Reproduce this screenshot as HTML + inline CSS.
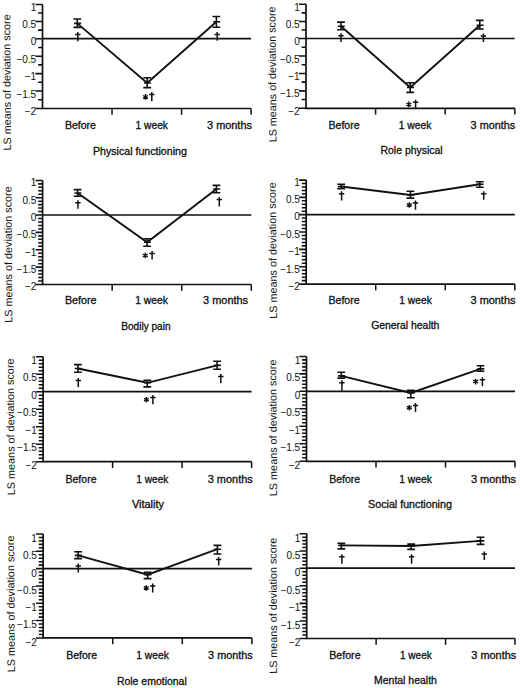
<!DOCTYPE html>
<html><head><meta charset="utf-8"><style>
html,body{margin:0;padding:0;background:#fff;}
svg{display:block;}
text{font-family:"Liberation Sans", sans-serif;fill:#111;}
</style></head><body>
<svg width="520" height="688" viewBox="0 0 520 688">
<rect width="520" height="688" fill="#fff"/>
<g><path d="M42.5 4.4V108.5H251.1" fill="none" stroke="#111" stroke-width="1.7"/><path d="M112.03 108.5v6.3" stroke="#111" stroke-width="1.5"/><path d="M181.57 108.5v6.3" stroke="#111" stroke-width="1.5"/><path d="M251.1 108.5v6.3" stroke="#111" stroke-width="1.5"/><path d="M42.5 38.7H251.1" stroke="#111" stroke-width="1.7"/><path d="M35.4 4.4H42.5M38.1 12.98H42.5M35.4 21.55H42.5M38.1 30.12H42.5M35.4 38.7H42.5M38.1 47.43H42.5M35.4 56.15H42.5M38.1 64.88H42.5M35.4 73.6H42.5M38.1 82.33H42.5M35.4 91.05H42.5M38.1 99.78H42.5M35.4 108.5H42.5" stroke="#111" stroke-width="1.55"/><text x="36.2" y="11" text-anchor="end" font-size="10">1</text><text x="36.2" y="28.15" text-anchor="end" font-size="10">0.5</text><text x="36.2" y="45.3" text-anchor="end" font-size="10">0</text><text x="36.2" y="62.75" text-anchor="end" font-size="10">−0.5</text><text x="36.2" y="80.2" text-anchor="end" font-size="10">−1</text><text x="36.2" y="97.65" text-anchor="end" font-size="10">−1.5</text><text x="36.2" y="115.1" text-anchor="end" font-size="10">−2</text><text transform="translate(11 150.5) rotate(-90.38)" font-size="10.7" textLength="136.15" lengthAdjust="spacingAndGlyphs">LS means of deviation score</text><text x="64.9" y="128.6" font-size="10.1" stroke="#111" stroke-width="0.3" textLength="31.1" lengthAdjust="spacingAndGlyphs">Before</text><text x="135.5" y="128.6" font-size="10.1" stroke="#111" stroke-width="0.3" textLength="32.5" lengthAdjust="spacingAndGlyphs">1 week</text><text x="207.1" y="128.6" font-size="10.1" stroke="#111" stroke-width="0.3" textLength="44.8" lengthAdjust="spacingAndGlyphs">3 months</text><text x="92.9" y="154.5" font-size="10.1" stroke="#111" stroke-width="0.3" textLength="94" lengthAdjust="spacingAndGlyphs">Physical functioning</text><polyline points="77.3,23.4 147.2,83 216.4,21.8" fill="none" stroke="#111" stroke-width="1.9" stroke-linejoin="miter"/><path d="M77.3 19V27.4M73.4 19h7.8M73.4 27.4h7.8M74.1 23.4h7" fill="none" stroke="#111" stroke-width="1.6"/><path d="M147.2 77.7V87.6M143.3 77.7h7.8M143.3 87.6h7.8M144 83h7" fill="none" stroke="#111" stroke-width="1.6"/><path d="M216.4 16.5V27.3M212.5 16.5h7.8M212.5 27.3h7.8M213.2 21.8h7" fill="none" stroke="#111" stroke-width="1.6"/><path d="M77.8 31.9V41.2M75.1 34.4h5.4" stroke="#111" stroke-width="1.5"/><path d="M145.5 94.1L145.5 99.7M143.08 95.5L147.92 98.3M143.08 98.3L147.92 95.5" stroke="#111" stroke-width="1.4"/><path d="M151.8 91.9V101.2M149.1 94.4h5.4" stroke="#111" stroke-width="1.5"/><path d="M217.2 31.9V40.8M214.5 34.4h5.4" stroke="#111" stroke-width="1.5"/></g>
<g><path d="M306 4.3V108.3H514.8" fill="none" stroke="#111" stroke-width="1.7"/><path d="M375.6 108.3v6.3" stroke="#111" stroke-width="1.5"/><path d="M445.2 108.3v6.3" stroke="#111" stroke-width="1.5"/><path d="M514.8 108.3v6.3" stroke="#111" stroke-width="1.5"/><path d="M306 38.5H514.8" stroke="#111" stroke-width="1.7"/><path d="M298.9 4.3H306M301.6 12.85H306M298.9 21.4H306M301.6 29.95H306M298.9 38.5H306M301.6 47.23H306M298.9 55.95H306M301.6 64.67H306M298.9 73.4H306M301.6 82.12H306M298.9 90.85H306M301.6 99.57H306M298.9 108.3H306" stroke="#111" stroke-width="1.55"/><text x="299.7" y="10.9" text-anchor="end" font-size="10">1</text><text x="299.7" y="28" text-anchor="end" font-size="10">0.5</text><text x="299.7" y="45.1" text-anchor="end" font-size="10">0</text><text x="299.7" y="62.55" text-anchor="end" font-size="10">−0.5</text><text x="299.7" y="80" text-anchor="end" font-size="10">−1</text><text x="299.7" y="97.45" text-anchor="end" font-size="10">−1.5</text><text x="299.7" y="114.9" text-anchor="end" font-size="10">−2</text><text transform="translate(276.6 142.35) rotate(-90.55)" font-size="10.7" textLength="135.9" lengthAdjust="spacingAndGlyphs">LS means of deviation score</text><text x="328.5" y="128.6" font-size="10.1" stroke="#111" stroke-width="0.3" textLength="31.1" lengthAdjust="spacingAndGlyphs">Before</text><text x="398.7" y="128.6" font-size="10.1" stroke="#111" stroke-width="0.3" textLength="32.8" lengthAdjust="spacingAndGlyphs">1 week</text><text x="470.6" y="128.6" font-size="10.1" stroke="#111" stroke-width="0.3" textLength="44.6" lengthAdjust="spacingAndGlyphs">3 months</text><text x="380.5" y="154.4" font-size="10.1" stroke="#111" stroke-width="0.3" textLength="62.1" lengthAdjust="spacingAndGlyphs">Role physical</text><polyline points="341,26.3 410.2,87.4 479.8,25.2" fill="none" stroke="#111" stroke-width="1.9" stroke-linejoin="miter"/><path d="M341 22.1V29.8M337.1 22.1h7.8M337.1 29.8h7.8M337.8 26.3h7" fill="none" stroke="#111" stroke-width="1.6"/><path d="M410.2 82.8V92.4M406.3 82.8h7.8M406.3 92.4h7.8M407 87.4h7" fill="none" stroke="#111" stroke-width="1.6"/><path d="M479.8 20.4V29M475.9 20.4h7.8M475.9 29h7.8M476.6 25.2h7" fill="none" stroke="#111" stroke-width="1.6"/><path d="M341 33.3V41.9M338.3 35.8h5.4" stroke="#111" stroke-width="1.5"/><path d="M408.8 101.6L408.8 107.2M406.38 103L411.22 105.8M406.38 105.8L411.22 103" stroke="#111" stroke-width="1.4"/><path d="M415.6 99.8V108.5M412.9 102.3h5.4" stroke="#111" stroke-width="1.5"/><path d="M483.4 33.4V42M480.7 35.9h5.4" stroke="#111" stroke-width="1.5"/></g>
<g><path d="M42.6 180.4V284.5H251.3" fill="none" stroke="#111" stroke-width="1.7"/><path d="M112.17 284.5v6.3" stroke="#111" stroke-width="1.5"/><path d="M181.73 284.5v6.3" stroke="#111" stroke-width="1.5"/><path d="M251.3 284.5v6.3" stroke="#111" stroke-width="1.5"/><path d="M42.6 215H251.3" stroke="#111" stroke-width="1.7"/><path d="M35.5 180.4H42.6M38.2 183.86H42.6M38.2 187.32H42.6M38.2 190.78H42.6M38.2 194.24H42.6M35.5 197.7H42.6M38.2 201.16H42.6M38.2 204.62H42.6M38.2 208.08H42.6M38.2 211.54H42.6M35.5 215H42.6M38.2 218.47H42.6M38.2 221.95H42.6M38.2 225.43H42.6M38.2 228.9H42.6M35.5 232.38H42.6M38.2 235.85H42.6M38.2 239.33H42.6M38.2 242.8H42.6M38.2 246.28H42.6M35.5 249.75H42.6M38.2 253.22H42.6M38.2 256.7H42.6M38.2 260.18H42.6M38.2 263.65H42.6M35.5 267.12H42.6M38.2 270.6H42.6M38.2 274.07H42.6M38.2 277.55H42.6M38.2 281.02H42.6M35.5 284.5H42.6" stroke="#111" stroke-width="1.55"/><text x="36.3" y="186.2" text-anchor="end" font-size="10">1</text><text x="36.3" y="203.5" text-anchor="end" font-size="10">0.5</text><text x="36.3" y="220.8" text-anchor="end" font-size="10">0</text><text x="36.3" y="238.18" text-anchor="end" font-size="10">−0.5</text><text x="36.3" y="255.55" text-anchor="end" font-size="10">−1</text><text x="36.3" y="272.93" text-anchor="end" font-size="10">−1.5</text><text x="36.3" y="290.3" text-anchor="end" font-size="10">−2</text><text transform="translate(12.3 322.65) rotate(-90.34)" font-size="10.7" textLength="136.3" lengthAdjust="spacingAndGlyphs">LS means of deviation score</text><text x="64.9" y="304.1" font-size="10.1" stroke="#111" stroke-width="0.3" textLength="31.6" lengthAdjust="spacingAndGlyphs">Before</text><text x="135.2" y="304.1" font-size="10.1" stroke="#111" stroke-width="0.3" textLength="32.8" lengthAdjust="spacingAndGlyphs">1 week</text><text x="203.1" y="304.1" font-size="10.1" stroke="#111" stroke-width="0.3" textLength="45" lengthAdjust="spacingAndGlyphs">3 months</text><text x="121.2" y="330.4" font-size="10.1" stroke="#111" stroke-width="0.3" textLength="49.4" lengthAdjust="spacingAndGlyphs">Bodily pain</text><polyline points="77.6,193 147.1,242.2 216.4,189" fill="none" stroke="#111" stroke-width="1.9" stroke-linejoin="miter"/><path d="M77.6 189.6V196.3M73.7 189.6h7.8M73.7 196.3h7.8M74.4 193h7" fill="none" stroke="#111" stroke-width="1.6"/><path d="M147.1 238.8V246.2M143.2 238.8h7.8M143.2 246.2h7.8M143.9 242.2h7" fill="none" stroke="#111" stroke-width="1.6"/><path d="M216.4 185.4V192.8M212.5 185.4h7.8M212.5 192.8h7.8M213.2 189h7" fill="none" stroke="#111" stroke-width="1.6"/><path d="M77.9 200.2V208.8M75.2 202.7h5.4" stroke="#111" stroke-width="1.5"/><path d="M145.3 252.7L145.3 258.3M142.88 254.1L147.72 256.9M142.88 256.9L147.72 254.1" stroke="#111" stroke-width="1.4"/><path d="M152.1 251V259.6M149.4 253.5h5.4" stroke="#111" stroke-width="1.5"/><path d="M219.3 197.1V206.5M216.6 199.6h5.4" stroke="#111" stroke-width="1.5"/></g>
<g><path d="M306.2 180.1V284.1H514.8" fill="none" stroke="#111" stroke-width="1.7"/><path d="M375.73 284.1v6.3" stroke="#111" stroke-width="1.5"/><path d="M445.27 284.1v6.3" stroke="#111" stroke-width="1.5"/><path d="M514.8 284.1v6.3" stroke="#111" stroke-width="1.5"/><path d="M306.2 214.6H514.8" stroke="#111" stroke-width="1.7"/><path d="M299.1 180.1H306.2M301.8 183.55H306.2M301.8 187H306.2M301.8 190.45H306.2M301.8 193.9H306.2M299.1 197.35H306.2M301.8 200.8H306.2M301.8 204.25H306.2M301.8 207.7H306.2M301.8 211.15H306.2M299.1 214.6H306.2M301.8 218.07H306.2M301.8 221.55H306.2M301.8 225.03H306.2M301.8 228.5H306.2M299.1 231.97H306.2M301.8 235.45H306.2M301.8 238.93H306.2M301.8 242.4H306.2M301.8 245.88H306.2M299.1 249.35H306.2M301.8 252.83H306.2M301.8 256.3H306.2M301.8 259.78H306.2M301.8 263.25H306.2M299.1 266.73H306.2M301.8 270.2H306.2M301.8 273.68H306.2M301.8 277.15H306.2M301.8 280.62H306.2M299.1 284.1H306.2" stroke="#111" stroke-width="1.55"/><text x="299.9" y="185.9" text-anchor="end" font-size="10">1</text><text x="299.9" y="203.15" text-anchor="end" font-size="10">0.5</text><text x="299.9" y="220.4" text-anchor="end" font-size="10">0</text><text x="299.9" y="237.78" text-anchor="end" font-size="10">−0.5</text><text x="299.9" y="255.15" text-anchor="end" font-size="10">−1</text><text x="299.9" y="272.53" text-anchor="end" font-size="10">−1.5</text><text x="299.9" y="289.9" text-anchor="end" font-size="10">−2</text><text transform="translate(277.1 318.75) rotate(-90.64)" font-size="10.7" textLength="136.5" lengthAdjust="spacingAndGlyphs">LS means of deviation score</text><text x="328.5" y="304.1" font-size="10.1" stroke="#111" stroke-width="0.3" textLength="31.1" lengthAdjust="spacingAndGlyphs">Before</text><text x="399.3" y="304.1" font-size="10.1" stroke="#111" stroke-width="0.3" textLength="32.5" lengthAdjust="spacingAndGlyphs">1 week</text><text x="470.6" y="304.1" font-size="10.1" stroke="#111" stroke-width="0.3" textLength="44.8" lengthAdjust="spacingAndGlyphs">3 months</text><text x="371.2" y="329.4" font-size="10.1" stroke="#111" stroke-width="0.3" textLength="68.2" lengthAdjust="spacingAndGlyphs">General health</text><polyline points="341.2,186.5 410.4,195 479.8,184.3" fill="none" stroke="#111" stroke-width="1.9" stroke-linejoin="miter"/><path d="M341.2 184.3V188.6M337.3 184.3h7.8M337.3 188.6h7.8M338 186.5h7" fill="none" stroke="#111" stroke-width="1.6"/><path d="M410.4 191.3V198.1M406.5 191.3h7.8M406.5 198.1h7.8M407.2 195h7" fill="none" stroke="#111" stroke-width="1.6"/><path d="M479.8 181.7V187.3M475.9 181.7h7.8M475.9 187.3h7.8M476.6 184.3h7" fill="none" stroke="#111" stroke-width="1.6"/><path d="M341.6 191.2V200.5M338.9 193.7h5.4" stroke="#111" stroke-width="1.5"/><path d="M409.3 202.2L409.3 207.8M406.88 203.6L411.72 206.4M406.88 206.4L411.72 203.6" stroke="#111" stroke-width="1.4"/><path d="M415.5 200.4V209.8M412.8 202.9h5.4" stroke="#111" stroke-width="1.5"/><path d="M483.7 191.2V199.8M481 193.7h5.4" stroke="#111" stroke-width="1.5"/></g>
<g><path d="M43.1 356.8V461.7H251.6" fill="none" stroke="#111" stroke-width="1.7"/><path d="M112.6 461.7v6.3" stroke="#111" stroke-width="1.5"/><path d="M182.1 461.7v6.3" stroke="#111" stroke-width="1.5"/><path d="M251.6 461.7v6.3" stroke="#111" stroke-width="1.5"/><path d="M43.1 391.7H251.6" stroke="#111" stroke-width="1.7"/><path d="M36 356.8H43.1M38.7 360.29H43.1M38.7 363.78H43.1M38.7 367.27H43.1M38.7 370.76H43.1M36 374.25H43.1M38.7 377.74H43.1M38.7 381.23H43.1M38.7 384.72H43.1M38.7 388.21H43.1M36 391.7H43.1M38.7 395.2H43.1M38.7 398.7H43.1M38.7 402.2H43.1M38.7 405.7H43.1M36 409.2H43.1M38.7 412.7H43.1M38.7 416.2H43.1M38.7 419.7H43.1M38.7 423.2H43.1M36 426.7H43.1M38.7 430.2H43.1M38.7 433.7H43.1M38.7 437.2H43.1M38.7 440.7H43.1M36 444.2H43.1M38.7 447.7H43.1M38.7 451.2H43.1M38.7 454.7H43.1M38.7 458.2H43.1M36 461.7H43.1" stroke="#111" stroke-width="1.55"/><text x="36.8" y="364" text-anchor="end" font-size="10">1</text><text x="36.8" y="381.45" text-anchor="end" font-size="10">0.5</text><text x="36.8" y="398.9" text-anchor="end" font-size="10">0</text><text x="36.8" y="416.4" text-anchor="end" font-size="10">−0.5</text><text x="36.8" y="433.9" text-anchor="end" font-size="10">−1</text><text x="36.8" y="451.4" text-anchor="end" font-size="10">−1.5</text><text x="36.8" y="468.9" text-anchor="end" font-size="10">−2</text><text transform="translate(14.9 495.25) rotate(-90.55)" font-size="10.7" textLength="136.8" lengthAdjust="spacingAndGlyphs">LS means of deviation score</text><text x="65.5" y="482.5" font-size="10.1" stroke="#111" stroke-width="0.3" textLength="31" lengthAdjust="spacingAndGlyphs">Before</text><text x="136.3" y="482.5" font-size="10.1" stroke="#111" stroke-width="0.3" textLength="32.1" lengthAdjust="spacingAndGlyphs">1 week</text><text x="207.75" y="482.5" font-size="10.1" stroke="#111" stroke-width="0.3" textLength="45" lengthAdjust="spacingAndGlyphs">3 months</text><text x="131.9" y="508" font-size="10.1" stroke="#111" stroke-width="0.3" textLength="32" lengthAdjust="spacingAndGlyphs">Vitality</text><polyline points="77.9,368.5 147.3,382.8 217.1,365.4" fill="none" stroke="#111" stroke-width="1.9" stroke-linejoin="miter"/><path d="M77.9 364.6V372.3M74 364.6h7.8M74 372.3h7.8M74.7 368.5h7" fill="none" stroke="#111" stroke-width="1.6"/><path d="M147.3 380.2V386.9M143.4 380.2h7.8M143.4 386.9h7.8M144.1 382.8h7" fill="none" stroke="#111" stroke-width="1.6"/><path d="M217.1 361.3V369.2M213.2 361.3h7.8M213.2 369.2h7.8M213.9 365.4h7" fill="none" stroke="#111" stroke-width="1.6"/><path d="M78.3 377.9V387.2M75.6 380.4h5.4" stroke="#111" stroke-width="1.5"/><path d="M146.4 397L146.4 402.6M143.98 398.4L148.82 401.2M143.98 401.2L148.82 398.4" stroke="#111" stroke-width="1.4"/><path d="M152.9 395V404.2M150.2 397.5h5.4" stroke="#111" stroke-width="1.5"/><path d="M220.8 374V383.2M218.1 376.5h5.4" stroke="#111" stroke-width="1.5"/></g>
<g><path d="M306.5 356.4V461.3H515" fill="none" stroke="#111" stroke-width="1.7"/><path d="M376 461.3v6.3" stroke="#111" stroke-width="1.5"/><path d="M445.5 461.3v6.3" stroke="#111" stroke-width="1.5"/><path d="M515 461.3v6.3" stroke="#111" stroke-width="1.5"/><path d="M306.5 391.3H515" stroke="#111" stroke-width="1.7"/><path d="M299.4 356.4H306.5M302.1 359.89H306.5M302.1 363.38H306.5M302.1 366.87H306.5M302.1 370.36H306.5M299.4 373.85H306.5M302.1 377.34H306.5M302.1 380.83H306.5M302.1 384.32H306.5M302.1 387.81H306.5M299.4 391.3H306.5M302.1 394.8H306.5M302.1 398.3H306.5M302.1 401.8H306.5M302.1 405.3H306.5M299.4 408.8H306.5M302.1 412.3H306.5M302.1 415.8H306.5M302.1 419.3H306.5M302.1 422.8H306.5M299.4 426.3H306.5M302.1 429.8H306.5M302.1 433.3H306.5M302.1 436.8H306.5M302.1 440.3H306.5M299.4 443.8H306.5M302.1 447.3H306.5M302.1 450.8H306.5M302.1 454.3H306.5M302.1 457.8H306.5M299.4 461.3H306.5" stroke="#111" stroke-width="1.55"/><text x="300.2" y="363.6" text-anchor="end" font-size="10">1</text><text x="300.2" y="381.05" text-anchor="end" font-size="10">0.5</text><text x="300.2" y="398.5" text-anchor="end" font-size="10">0</text><text x="300.2" y="416" text-anchor="end" font-size="10">−0.5</text><text x="300.2" y="433.5" text-anchor="end" font-size="10">−1</text><text x="300.2" y="451" text-anchor="end" font-size="10">−1.5</text><text x="300.2" y="468.5" text-anchor="end" font-size="10">−2</text><text transform="translate(277.1 496.15) rotate(-90.38)" font-size="10.7" textLength="136.6" lengthAdjust="spacingAndGlyphs">LS means of deviation score</text><text x="329.2" y="482.5" font-size="10.1" stroke="#111" stroke-width="0.3" textLength="31" lengthAdjust="spacingAndGlyphs">Before</text><text x="399.3" y="482.5" font-size="10.1" stroke="#111" stroke-width="0.3" textLength="32.5" lengthAdjust="spacingAndGlyphs">1 week</text><text x="471" y="482.5" font-size="10.1" stroke="#111" stroke-width="0.3" textLength="45" lengthAdjust="spacingAndGlyphs">3 months</text><text x="368.1" y="507.8" font-size="10.1" stroke="#111" stroke-width="0.3" textLength="83.8" lengthAdjust="spacingAndGlyphs">Social functioning</text><polyline points="341.3,375.9 410.8,392.9 480.5,368.9" fill="none" stroke="#111" stroke-width="1.9" stroke-linejoin="miter"/><path d="M341.3 372.3V378.1M337.4 372.3h7.8M337.4 378.1h7.8M338.1 375.9h7" fill="none" stroke="#111" stroke-width="1.6"/><path d="M410.8 390.4V397.8M406.9 390.4h7.8M406.9 397.8h7.8M407.6 392.9h7" fill="none" stroke="#111" stroke-width="1.6"/><path d="M480.5 365.8V371.2M476.6 365.8h7.8M476.6 371.2h7.8M477.3 368.9h7" fill="none" stroke="#111" stroke-width="1.6"/><path d="M341.9 380.2V390.8M339.2 382.7h5.4" stroke="#111" stroke-width="1.5"/><path d="M409.3 404.9L409.3 410.5M406.88 406.3L411.72 409.1M406.88 409.1L411.72 406.3" stroke="#111" stroke-width="1.4"/><path d="M415.5 402.9V412M412.8 405.4h5.4" stroke="#111" stroke-width="1.5"/><path d="M475.6 378.8L475.6 384.4M473.18 380.2L478.02 383M473.18 383L478.02 380.2" stroke="#111" stroke-width="1.4"/><path d="M482.4 377.3V386.3M479.7 379.8h5.4" stroke="#111" stroke-width="1.5"/></g>
<g><path d="M43.15 534V637.9H251.9" fill="none" stroke="#111" stroke-width="1.7"/><path d="M112.73 637.9v6.3" stroke="#111" stroke-width="1.5"/><path d="M182.32 637.9v6.3" stroke="#111" stroke-width="1.5"/><path d="M251.9 637.9v6.3" stroke="#111" stroke-width="1.5"/><path d="M43.15 568.6H251.9" stroke="#111" stroke-width="1.7"/><path d="M36.05 534H43.15M38.75 537.46H43.15M38.75 540.92H43.15M38.75 544.38H43.15M38.75 547.84H43.15M36.05 551.3H43.15M38.75 554.76H43.15M38.75 558.22H43.15M38.75 561.68H43.15M38.75 565.14H43.15M36.05 568.6H43.15M38.75 572.07H43.15M38.75 575.53H43.15M38.75 579H43.15M38.75 582.46H43.15M36.05 585.92H43.15M38.75 589.39H43.15M38.75 592.86H43.15M38.75 596.32H43.15M38.75 599.78H43.15M36.05 603.25H43.15M38.75 606.72H43.15M38.75 610.18H43.15M38.75 613.64H43.15M38.75 617.11H43.15M36.05 620.58H43.15M38.75 624.04H43.15M38.75 627.5H43.15M38.75 630.97H43.15M38.75 634.43H43.15M36.05 637.9H43.15" stroke="#111" stroke-width="1.55"/><text x="36.85" y="541.9" text-anchor="end" font-size="10">1</text><text x="36.85" y="559.2" text-anchor="end" font-size="10">0.5</text><text x="36.85" y="576.5" text-anchor="end" font-size="10">0</text><text x="36.85" y="593.82" text-anchor="end" font-size="10">−0.5</text><text x="36.85" y="611.15" text-anchor="end" font-size="10">−1</text><text x="36.85" y="628.48" text-anchor="end" font-size="10">−1.5</text><text x="36.85" y="645.8" text-anchor="end" font-size="10">−2</text><text transform="translate(14.9 672.35) rotate(-90.38)" font-size="10.7" textLength="136.8" lengthAdjust="spacingAndGlyphs">LS means of deviation score</text><text x="66.2" y="659.1" font-size="10.1" stroke="#111" stroke-width="0.3" textLength="31" lengthAdjust="spacingAndGlyphs">Before</text><text x="136.3" y="659.1" font-size="10.1" stroke="#111" stroke-width="0.3" textLength="32.5" lengthAdjust="spacingAndGlyphs">1 week</text><text x="208.1" y="659.1" font-size="10.1" stroke="#111" stroke-width="0.3" textLength="44.65" lengthAdjust="spacingAndGlyphs">3 months</text><text x="116.9" y="684.6" font-size="10.1" stroke="#111" stroke-width="0.3" textLength="69.9" lengthAdjust="spacingAndGlyphs">Role emotional</text><polyline points="78.1,555.4 147.6,574.7 217.4,549.2" fill="none" stroke="#111" stroke-width="1.9" stroke-linejoin="miter"/><path d="M78.1 551.8V558.6M74.2 551.8h7.8M74.2 558.6h7.8M74.9 555.4h7" fill="none" stroke="#111" stroke-width="1.6"/><path d="M147.6 572.3V578.6M143.7 572.3h7.8M143.7 578.6h7.8M144.4 574.7h7" fill="none" stroke="#111" stroke-width="1.6"/><path d="M217.4 545.4V554M213.5 545.4h7.8M213.5 554h7.8M214.2 549.2h7" fill="none" stroke="#111" stroke-width="1.6"/><path d="M78.3 563.4V572.5M75.6 565.9h5.4" stroke="#111" stroke-width="1.5"/><path d="M146.2 585.2L146.2 590.8M143.78 586.6L148.62 589.4M143.78 589.4L148.62 586.6" stroke="#111" stroke-width="1.4"/><path d="M152.7 583.4V592.5M150 585.9h5.4" stroke="#111" stroke-width="1.5"/><path d="M218.7 556.9V565.6M216 559.4h5.4" stroke="#111" stroke-width="1.5"/></g>
<g><path d="M306.7 533.7V638.5H515" fill="none" stroke="#111" stroke-width="1.7"/><path d="M376.13 638.5v6.3" stroke="#111" stroke-width="1.5"/><path d="M445.57 638.5v6.3" stroke="#111" stroke-width="1.5"/><path d="M515 638.5v6.3" stroke="#111" stroke-width="1.5"/><path d="M306.7 568.2H515" stroke="#111" stroke-width="1.7"/><path d="M299.6 533.7H306.7M302.3 537.15H306.7M302.3 540.6H306.7M302.3 544.05H306.7M302.3 547.5H306.7M299.6 550.95H306.7M302.3 554.4H306.7M302.3 557.85H306.7M302.3 561.3H306.7M302.3 564.75H306.7M299.6 568.2H306.7M302.3 571.72H306.7M302.3 575.23H306.7M302.3 578.75H306.7M302.3 582.26H306.7M299.6 585.78H306.7M302.3 589.29H306.7M302.3 592.81H306.7M302.3 596.32H306.7M302.3 599.84H306.7M299.6 603.35H306.7M302.3 606.87H306.7M302.3 610.38H306.7M302.3 613.89H306.7M302.3 617.41H306.7M299.6 620.92H306.7M302.3 624.44H306.7M302.3 627.96H306.7M302.3 631.47H306.7M302.3 634.99H306.7M299.6 638.5H306.7" stroke="#111" stroke-width="1.55"/><text x="300.4" y="541.6" text-anchor="end" font-size="10">1</text><text x="300.4" y="558.85" text-anchor="end" font-size="10">0.5</text><text x="300.4" y="576.1" text-anchor="end" font-size="10">0</text><text x="300.4" y="593.68" text-anchor="end" font-size="10">−0.5</text><text x="300.4" y="611.25" text-anchor="end" font-size="10">−1</text><text x="300.4" y="628.82" text-anchor="end" font-size="10">−1.5</text><text x="300.4" y="646.4" text-anchor="end" font-size="10">−2</text><text transform="translate(277.1 673.85) rotate(-90.25)" font-size="10.7" textLength="136.2" lengthAdjust="spacingAndGlyphs">LS means of deviation score</text><text x="329.2" y="659.1" font-size="10.1" stroke="#111" stroke-width="0.3" textLength="31.4" lengthAdjust="spacingAndGlyphs">Before</text><text x="400" y="659.1" font-size="10.1" stroke="#111" stroke-width="0.3" textLength="31.8" lengthAdjust="spacingAndGlyphs">1 week</text><text x="471.3" y="659.1" font-size="10.1" stroke="#111" stroke-width="0.3" textLength="44.9" lengthAdjust="spacingAndGlyphs">3 months</text><text x="374" y="684.4" font-size="10.1" stroke="#111" stroke-width="0.3" textLength="62.9" lengthAdjust="spacingAndGlyphs">Mental health</text><polyline points="341.3,545.4 411.2,546 480.5,540.9" fill="none" stroke="#111" stroke-width="1.9" stroke-linejoin="miter"/><path d="M341.3 543.2V548.9M337.4 543.2h7.8M337.4 548.9h7.8M338.1 545.4h7" fill="none" stroke="#111" stroke-width="1.6"/><path d="M411.2 544.1V549.4M407.3 544.1h7.8M407.3 549.4h7.8M408 546h7" fill="none" stroke="#111" stroke-width="1.6"/><path d="M480.5 537.3V544.4M476.6 537.3h7.8M476.6 544.4h7.8M477.3 540.9h7" fill="none" stroke="#111" stroke-width="1.6"/><path d="M341.9 554.2V563.7M339.2 556.7h5.4" stroke="#111" stroke-width="1.5"/><path d="M411.6 554.2V563.7M408.9 556.7h5.4" stroke="#111" stroke-width="1.5"/><path d="M484.3 551.4V560.1M481.6 553.9h5.4" stroke="#111" stroke-width="1.5"/></g>
</svg>
</body></html>
